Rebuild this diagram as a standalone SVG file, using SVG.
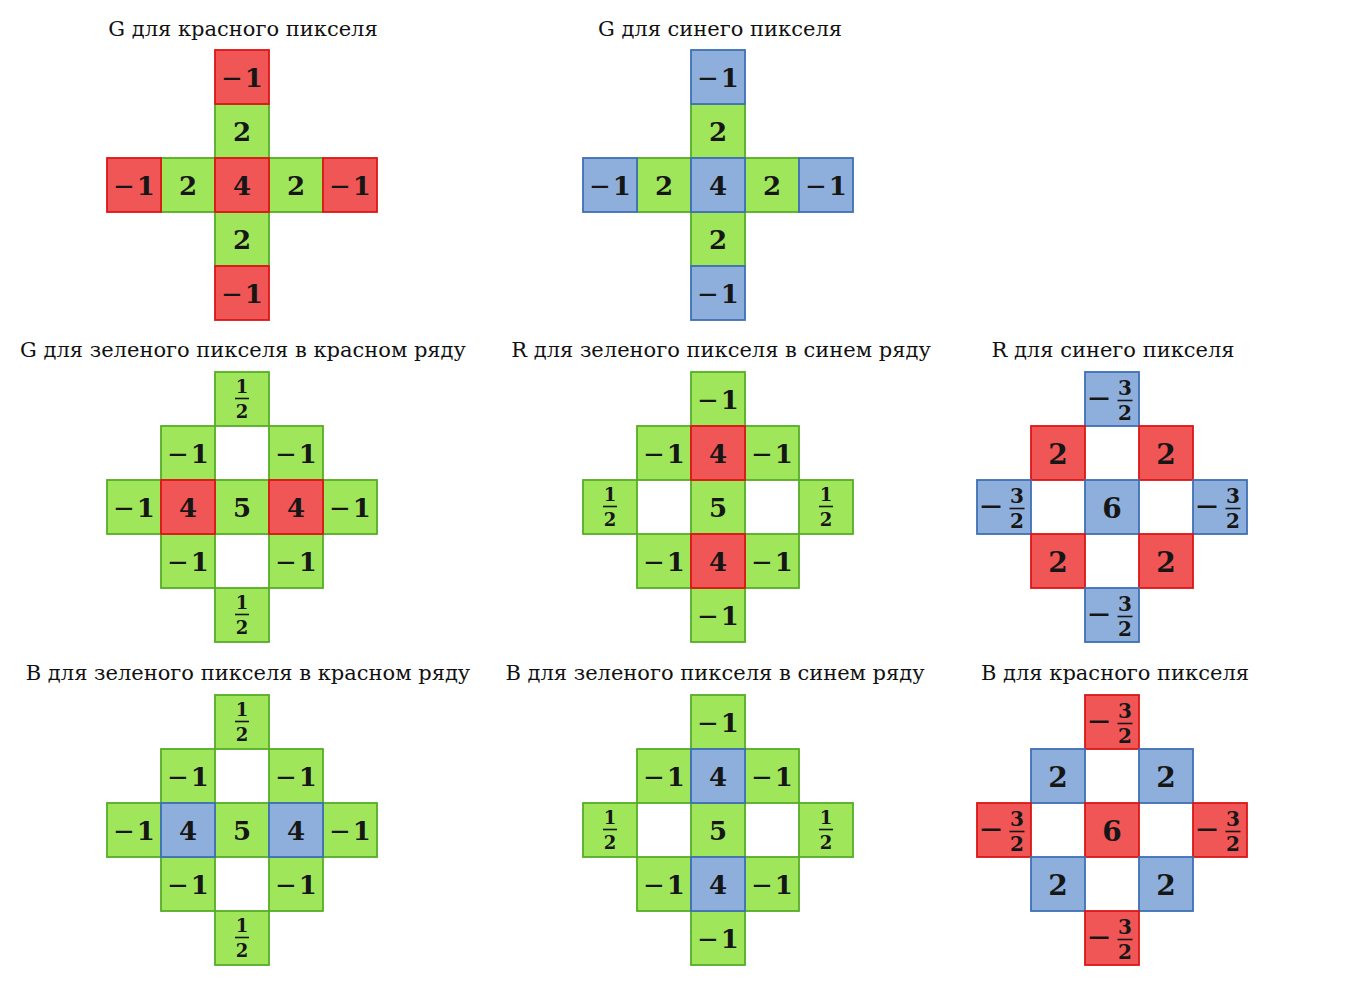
<svg xmlns="http://www.w3.org/2000/svg" width="1364" height="988" viewBox="0 0 1364 988">
<style>
.r{fill:#f05656;stroke:#dc1616;stroke-width:1.8}
.g{fill:#9fe65b;stroke:#56ad26;stroke-width:1.8}
.b{fill:#8eafdb;stroke:#3d70b5;stroke-width:1.8}
.n{font-family:"DejaVu Serif",serif;font-weight:bold;font-size:26px;text-anchor:middle;fill:#161616}
.m{font-family:"DejaVu Sans",sans-serif;font-weight:normal}
.M{font-family:"DejaVu Sans",sans-serif;font-weight:normal;font-size:30px;text-anchor:middle;fill:#161616}
.L{font-size:28px}
.f{font-family:"DejaVu Serif",serif;font-weight:bold;font-size:18px;text-anchor:middle;fill:#161616}
.F{font-size:20px}
.bar{stroke:#161616;stroke-width:1.6}
.t{font-family:"DejaVu Serif",serif;font-size:21px;text-anchor:middle;fill:#111}
</style>
<rect width="1364" height="988" fill="#fff"/>
<g id="titles">
<text class="t" x="243" y="36">G для красного пикселя</text>
<text class="t" x="720" y="36">G для синего пикселя</text>
<text class="t" x="243" y="357">G для зеленого пикселя в красном ряду</text>
<text class="t" x="721" y="357">R для зеленого пикселя в синем ряду</text>
<text class="t" x="1113" y="357">R для синего пикселя</text>
<text class="t" x="248" y="680">B для зеленого пикселя в красном ряду</text>
<text class="t" x="715" y="680">B для зеленого пикселя в синем ряду</text>
<text class="t" x="1115" y="680">B для красного пикселя</text>
</g>

<g id="p1" transform="translate(107,50)">
<rect class="g" x="108" y="54" width="54" height="54"/>
<rect class="g" x="54" y="108" width="54" height="54"/>
<rect class="g" x="162" y="108" width="54" height="54"/>
<rect class="g" x="108" y="162" width="54" height="54"/>
<rect class="r" x="108" y="0" width="54" height="54"/>
<rect class="r" x="0" y="108" width="54" height="54"/>
<rect class="r" x="108" y="108" width="54" height="54"/>
<rect class="r" x="216" y="108" width="54" height="54"/>
<rect class="r" x="108" y="216" width="54" height="54"/>
<text class="n" x="135" y="37"><tspan class="m">−</tspan><tspan dx="2">1</tspan></text>
<text class="n" x="135" y="91">2</text>
<text class="n" x="27" y="145"><tspan class="m">−</tspan><tspan dx="2">1</tspan></text>
<text class="n" x="81" y="145">2</text>
<text class="n" x="135" y="145">4</text>
<text class="n" x="189" y="145">2</text>
<text class="n" x="243" y="145"><tspan class="m">−</tspan><tspan dx="2">1</tspan></text>
<text class="n" x="135" y="199">2</text>
<text class="n" x="135" y="253"><tspan class="m">−</tspan><tspan dx="2">1</tspan></text>
</g>

<g id="p2" transform="translate(583,50)">
<rect class="g" x="108" y="54" width="54" height="54"/>
<rect class="g" x="54" y="108" width="54" height="54"/>
<rect class="g" x="162" y="108" width="54" height="54"/>
<rect class="g" x="108" y="162" width="54" height="54"/>
<rect class="b" x="108" y="0" width="54" height="54"/>
<rect class="b" x="0" y="108" width="54" height="54"/>
<rect class="b" x="108" y="108" width="54" height="54"/>
<rect class="b" x="216" y="108" width="54" height="54"/>
<rect class="b" x="108" y="216" width="54" height="54"/>
<text class="n" x="135" y="37"><tspan class="m">−</tspan><tspan dx="2">1</tspan></text>
<text class="n" x="135" y="91">2</text>
<text class="n" x="27" y="145"><tspan class="m">−</tspan><tspan dx="2">1</tspan></text>
<text class="n" x="81" y="145">2</text>
<text class="n" x="135" y="145">4</text>
<text class="n" x="189" y="145">2</text>
<text class="n" x="243" y="145"><tspan class="m">−</tspan><tspan dx="2">1</tspan></text>
<text class="n" x="135" y="199">2</text>
<text class="n" x="135" y="253"><tspan class="m">−</tspan><tspan dx="2">1</tspan></text>
</g>

<g id="p3" transform="translate(107,372)">
<rect class="g" x="108" y="0" width="54" height="54"/>
<rect class="g" x="54" y="54" width="54" height="54"/>
<rect class="g" x="162" y="54" width="54" height="54"/>
<rect class="g" x="0" y="108" width="54" height="54"/>
<rect class="g" x="108" y="108" width="54" height="54"/>
<rect class="g" x="216" y="108" width="54" height="54"/>
<rect class="g" x="54" y="162" width="54" height="54"/>
<rect class="g" x="162" y="162" width="54" height="54"/>
<rect class="g" x="108" y="216" width="54" height="54"/>
<rect class="r" x="54" y="108" width="54" height="54"/>
<rect class="r" x="162" y="108" width="54" height="54"/>
<text class="f" x="135" y="21">1</text><line class="bar" x1="128" y1="26.5" x2="142" y2="26.5"/><text class="f" x="135" y="46">2</text>
<text class="n" x="81" y="91"><tspan class="m">−</tspan><tspan dx="2">1</tspan></text>
<text class="n" x="189" y="91"><tspan class="m">−</tspan><tspan dx="2">1</tspan></text>
<text class="n" x="27" y="145"><tspan class="m">−</tspan><tspan dx="2">1</tspan></text>
<text class="n" x="81" y="145">4</text>
<text class="n" x="135" y="145">5</text>
<text class="n" x="189" y="145">4</text>
<text class="n" x="243" y="145"><tspan class="m">−</tspan><tspan dx="2">1</tspan></text>
<text class="n" x="81" y="199"><tspan class="m">−</tspan><tspan dx="2">1</tspan></text>
<text class="n" x="189" y="199"><tspan class="m">−</tspan><tspan dx="2">1</tspan></text>
<text class="f" x="135" y="237">1</text><line class="bar" x1="128" y1="242.5" x2="142" y2="242.5"/><text class="f" x="135" y="262">2</text>
</g>

<g id="p4" transform="translate(583,372)">
<rect class="g" x="108" y="0" width="54" height="54"/>
<rect class="g" x="54" y="54" width="54" height="54"/>
<rect class="g" x="162" y="54" width="54" height="54"/>
<rect class="g" x="0" y="108" width="54" height="54"/>
<rect class="g" x="108" y="108" width="54" height="54"/>
<rect class="g" x="216" y="108" width="54" height="54"/>
<rect class="g" x="54" y="162" width="54" height="54"/>
<rect class="g" x="162" y="162" width="54" height="54"/>
<rect class="g" x="108" y="216" width="54" height="54"/>
<rect class="r" x="108" y="54" width="54" height="54"/>
<rect class="r" x="108" y="162" width="54" height="54"/>
<text class="n" x="135" y="37"><tspan class="m">−</tspan><tspan dx="2">1</tspan></text>
<text class="n" x="81" y="91"><tspan class="m">−</tspan><tspan dx="2">1</tspan></text>
<text class="n" x="135" y="91">4</text>
<text class="n" x="189" y="91"><tspan class="m">−</tspan><tspan dx="2">1</tspan></text>
<text class="f" x="27" y="129">1</text><line class="bar" x1="20" y1="134.5" x2="34" y2="134.5"/><text class="f" x="27" y="154">2</text>
<text class="n" x="135" y="145">5</text>
<text class="f" x="243" y="129">1</text><line class="bar" x1="236" y1="134.5" x2="250" y2="134.5"/><text class="f" x="243" y="154">2</text>
<text class="n" x="81" y="199"><tspan class="m">−</tspan><tspan dx="2">1</tspan></text>
<text class="n" x="135" y="199">4</text>
<text class="n" x="189" y="199"><tspan class="m">−</tspan><tspan dx="2">1</tspan></text>
<text class="n" x="135" y="253"><tspan class="m">−</tspan><tspan dx="2">1</tspan></text>
</g>

<g id="p5" transform="translate(977,372)">
<rect class="b" x="108" y="0" width="54" height="54"/>
<rect class="r" x="54" y="54" width="54" height="54"/>
<rect class="r" x="162" y="54" width="54" height="54"/>
<rect class="b" x="0" y="108" width="54" height="54"/>
<rect class="b" x="108" y="108" width="54" height="54"/>
<rect class="b" x="216" y="108" width="54" height="54"/>
<rect class="r" x="54" y="162" width="54" height="54"/>
<rect class="r" x="162" y="162" width="54" height="54"/>
<rect class="b" x="108" y="216" width="54" height="54"/>
<text class="M" x="122" y="36">−</text><text class="f F" x="148" y="23">3</text><line class="bar" x1="140.5" y1="28.5" x2="155.5" y2="28.5"/><text class="f F" x="148" y="48">2</text>
<text class="n L" x="81" y="92">2</text>
<text class="n L" x="189" y="92">2</text>
<text class="M" x="14" y="144">−</text><text class="f F" x="40" y="131">3</text><line class="bar" x1="32.5" y1="136.5" x2="47.5" y2="136.5"/><text class="f F" x="40" y="156">2</text>
<text class="n L" x="135" y="146">6</text>
<text class="M" x="230" y="144">−</text><text class="f F" x="256" y="131">3</text><line class="bar" x1="248.5" y1="136.5" x2="263.5" y2="136.5"/><text class="f F" x="256" y="156">2</text>
<text class="n L" x="81" y="200">2</text>
<text class="n L" x="189" y="200">2</text>
<text class="M" x="122" y="252">−</text><text class="f F" x="148" y="239">3</text><line class="bar" x1="140.5" y1="244.5" x2="155.5" y2="244.5"/><text class="f F" x="148" y="264">2</text>
</g>

<g id="p6" transform="translate(107,695)">
<rect class="g" x="108" y="0" width="54" height="54"/>
<rect class="g" x="54" y="54" width="54" height="54"/>
<rect class="g" x="162" y="54" width="54" height="54"/>
<rect class="g" x="0" y="108" width="54" height="54"/>
<rect class="g" x="108" y="108" width="54" height="54"/>
<rect class="g" x="216" y="108" width="54" height="54"/>
<rect class="g" x="54" y="162" width="54" height="54"/>
<rect class="g" x="162" y="162" width="54" height="54"/>
<rect class="g" x="108" y="216" width="54" height="54"/>
<rect class="b" x="54" y="108" width="54" height="54"/>
<rect class="b" x="162" y="108" width="54" height="54"/>
<text class="f" x="135" y="21">1</text><line class="bar" x1="128" y1="26.5" x2="142" y2="26.5"/><text class="f" x="135" y="46">2</text>
<text class="n" x="81" y="91"><tspan class="m">−</tspan><tspan dx="2">1</tspan></text>
<text class="n" x="189" y="91"><tspan class="m">−</tspan><tspan dx="2">1</tspan></text>
<text class="n" x="27" y="145"><tspan class="m">−</tspan><tspan dx="2">1</tspan></text>
<text class="n" x="81" y="145">4</text>
<text class="n" x="135" y="145">5</text>
<text class="n" x="189" y="145">4</text>
<text class="n" x="243" y="145"><tspan class="m">−</tspan><tspan dx="2">1</tspan></text>
<text class="n" x="81" y="199"><tspan class="m">−</tspan><tspan dx="2">1</tspan></text>
<text class="n" x="189" y="199"><tspan class="m">−</tspan><tspan dx="2">1</tspan></text>
<text class="f" x="135" y="237">1</text><line class="bar" x1="128" y1="242.5" x2="142" y2="242.5"/><text class="f" x="135" y="262">2</text>
</g>

<g id="p7" transform="translate(583,695)">
<rect class="g" x="108" y="0" width="54" height="54"/>
<rect class="g" x="54" y="54" width="54" height="54"/>
<rect class="g" x="162" y="54" width="54" height="54"/>
<rect class="g" x="0" y="108" width="54" height="54"/>
<rect class="g" x="108" y="108" width="54" height="54"/>
<rect class="g" x="216" y="108" width="54" height="54"/>
<rect class="g" x="54" y="162" width="54" height="54"/>
<rect class="g" x="162" y="162" width="54" height="54"/>
<rect class="g" x="108" y="216" width="54" height="54"/>
<rect class="b" x="108" y="54" width="54" height="54"/>
<rect class="b" x="108" y="162" width="54" height="54"/>
<text class="n" x="135" y="37"><tspan class="m">−</tspan><tspan dx="2">1</tspan></text>
<text class="n" x="81" y="91"><tspan class="m">−</tspan><tspan dx="2">1</tspan></text>
<text class="n" x="135" y="91">4</text>
<text class="n" x="189" y="91"><tspan class="m">−</tspan><tspan dx="2">1</tspan></text>
<text class="f" x="27" y="129">1</text><line class="bar" x1="20" y1="134.5" x2="34" y2="134.5"/><text class="f" x="27" y="154">2</text>
<text class="n" x="135" y="145">5</text>
<text class="f" x="243" y="129">1</text><line class="bar" x1="236" y1="134.5" x2="250" y2="134.5"/><text class="f" x="243" y="154">2</text>
<text class="n" x="81" y="199"><tspan class="m">−</tspan><tspan dx="2">1</tspan></text>
<text class="n" x="135" y="199">4</text>
<text class="n" x="189" y="199"><tspan class="m">−</tspan><tspan dx="2">1</tspan></text>
<text class="n" x="135" y="253"><tspan class="m">−</tspan><tspan dx="2">1</tspan></text>
</g>

<g id="p8" transform="translate(977,695)">
<rect class="r" x="108" y="0" width="54" height="54"/>
<rect class="b" x="54" y="54" width="54" height="54"/>
<rect class="b" x="162" y="54" width="54" height="54"/>
<rect class="r" x="0" y="108" width="54" height="54"/>
<rect class="r" x="108" y="108" width="54" height="54"/>
<rect class="r" x="216" y="108" width="54" height="54"/>
<rect class="b" x="54" y="162" width="54" height="54"/>
<rect class="b" x="162" y="162" width="54" height="54"/>
<rect class="r" x="108" y="216" width="54" height="54"/>
<text class="M" x="122" y="36">−</text><text class="f F" x="148" y="23">3</text><line class="bar" x1="140.5" y1="28.5" x2="155.5" y2="28.5"/><text class="f F" x="148" y="48">2</text>
<text class="n L" x="81" y="92">2</text>
<text class="n L" x="189" y="92">2</text>
<text class="M" x="14" y="144">−</text><text class="f F" x="40" y="131">3</text><line class="bar" x1="32.5" y1="136.5" x2="47.5" y2="136.5"/><text class="f F" x="40" y="156">2</text>
<text class="n L" x="135" y="146">6</text>
<text class="M" x="230" y="144">−</text><text class="f F" x="256" y="131">3</text><line class="bar" x1="248.5" y1="136.5" x2="263.5" y2="136.5"/><text class="f F" x="256" y="156">2</text>
<text class="n L" x="81" y="200">2</text>
<text class="n L" x="189" y="200">2</text>
<text class="M" x="122" y="252">−</text><text class="f F" x="148" y="239">3</text><line class="bar" x1="140.5" y1="244.5" x2="155.5" y2="244.5"/><text class="f F" x="148" y="264">2</text>
</g>
</svg>
